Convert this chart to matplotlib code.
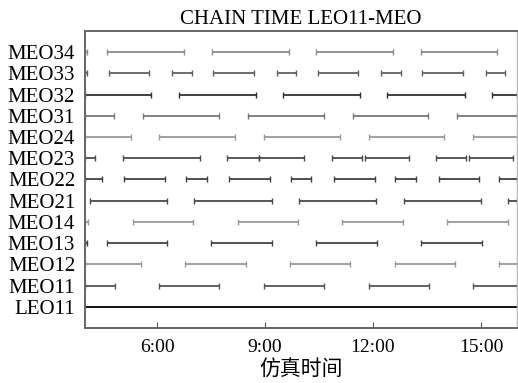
import matplotlib
matplotlib.use("Agg")
import matplotlib.pyplot as plt

plt.rcParams['font.family'] = ['Liberation Serif', 'Noto Sans CJK SC', 'DejaVu Sans']

labels = ["LEO11", "MEO11", "MEO12", "MEO13", "MEO14", "MEO21", "MEO22",
          "MEO23", "MEO24", "MEO31", "MEO32", "MEO33", "MEO34"]

# link windows in hours (start, end) per row
LEO11 = [(4.0, 16.0)]
MEO11 = [(4.0, 4.83), (6.06, 7.72), (8.97, 10.64), (11.89, 13.56), (14.78, 16.0)]
MEO12 = [(4.0, 5.56), (6.78, 8.47), (9.69, 11.36), (12.61, 14.28), (15.5, 16.0)]
MEO13 = [(4.0, 4.05), (4.61, 6.28), (7.5, 9.19), (10.42, 12.11), (13.33, 15.03)]
MEO14 = [(4.0, 4.08), (5.33, 7.0), (8.25, 9.92), (11.14, 12.83), (14.06, 15.75)]
MEO21 = [(4.14, 6.28), (7.03, 9.19), (9.94, 12.08), (12.86, 15.0), (15.75, 16.0)]
MEO22 = [(4.0, 4.47), (5.08, 6.22), (6.81, 7.39), (8.0, 9.14), (9.72, 10.28),
         (10.92, 12.06), (12.61, 13.19), (13.83, 14.94), (15.5, 16.0)]
MEO23 = [(4.0, 4.28), (5.06, 7.19), (7.94, 8.83), (8.83, 10.08), (10.86, 11.69),
         (11.78, 13.0), (13.75, 14.58), (14.67, 15.89)]
MEO24 = [(4.0, 5.28), (6.06, 8.17), (8.97, 11.08), (11.89, 13.97), (14.78, 16.0)]
MEO31 = [(4.0, 4.81), (5.61, 7.72), (8.53, 10.64), (11.44, 13.53), (14.33, 16.0)]
MEO32 = [(4.0, 5.83), (6.61, 8.75), (9.5, 11.64), (12.39, 14.56), (15.31, 16.0)]
MEO33 = [(4.0, 4.05), (4.67, 5.78), (6.42, 6.97), (7.56, 8.69), (9.33, 9.86),
         (10.47, 11.58), (12.22, 12.78), (13.36, 14.5), (15.14, 15.67)]
MEO34 = [(4.0, 4.05), (4.61, 6.75), (7.53, 9.67), (10.42, 12.56), (13.33, 15.44)]

rows = [LEO11, MEO11, MEO12, MEO13, MEO14, MEO21, MEO22, MEO23, MEO24,
        MEO31, MEO32, MEO33, MEO34]
colors = ["#000000", "#555555", "#999999", "#444444", "#999999", "#4a4a4a",
          "#404040", "#4a4a4a", "#9a9a9a", "#777777", "#303030", "#606060",
          "#8c8c8c"]

xticks = [6, 9, 12, 15]
xticklabels = ["6:00", "9:00", "12:00", "15:00"]

fig = plt.figure(figsize=(5.18, 3.83), dpi=100)
ax = fig.add_axes([0.164, 0.1436, 0.834, 0.7755])

for i, (segs, c) in enumerate(zip(rows, colors)):
    for a, b in segs:
        if labels[i] == "LEO11":
            ax.plot([a, b], [i, i], color=c, lw=1.3, solid_capstyle='butt')
        else:
            ax.plot([a, b], [i, i], color=c, lw=1.3, marker='|', markersize=5,
                    mew=1.0, solid_capstyle='butt')

ax.set_xlim(4, 16)
ax.set_ylim(-1, 13)
ax.set_yticks(range(len(labels)))
ax.set_yticklabels(labels, fontsize=15)
ax.tick_params(axis='y', length=0, pad=7)
ax.set_xticks(xticks)
ax.set_xticklabels(xticklabels, fontsize=14)
ax.tick_params(axis='x', direction='in', length=4, color='#555555', pad=8)
ax.set_title("CHAIN TIME LEO11-MEO", fontsize=15, pad=5)
ax.set_xlabel("仿真时间", fontsize=15, labelpad=2,
              family=['Noto Sans CJK SC', 'DejaVu Sans'])
for s in ['left', 'top', 'bottom']:
    ax.spines[s].set_color('#666666')
    ax.spines[s].set_linewidth(1.4)
ax.spines['right'].set_color('#bbbbbb')
ax.spines['right'].set_linewidth(1.0)

fig.savefig("out.png", dpi=100)
